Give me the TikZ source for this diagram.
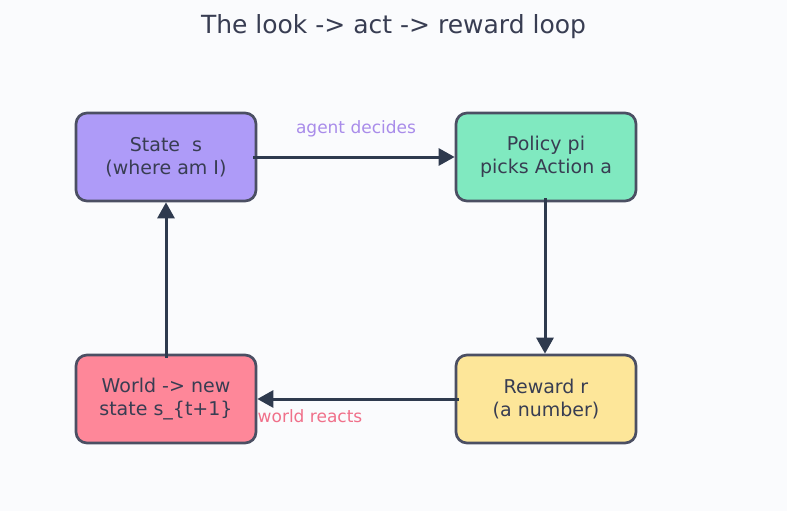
\documentclass[tikz,border=0pt]{standalone}
\usepackage{fontspec}
\setmainfont{DejaVu Sans}
\usetikzlibrary{arrows.meta}
\definecolor{bg}{HTML}{FAFBFD}
\definecolor{edgec}{HTML}{4B4F63}
\definecolor{txt}{HTML}{383D52}
\definecolor{arrowc}{HTML}{2E3A4E}
\definecolor{fpurple}{HTML}{AE9BF8}
\definecolor{fgreen}{HTML}{80E9C0}
\definecolor{fyellow}{HTML}{FDE699}
\definecolor{fpink}{HTML}{FE8799}
\definecolor{lpurple}{HTML}{A98CEA}
\definecolor{lpink}{HTML}{F0708A}
\tikzset{
  box/.style={draw=edgec, line width=2.7pt, rounded corners=11pt, minimum width=180pt, minimum height=88pt, align=center, text=txt, font=\fontsize{19}{22.5}\selectfont, inner sep=0pt},
  conn/.style={draw=arrowc, line width=3pt, -{Triangle[length=16pt,width=17pt]}},
  lab/.style={font=\fontsize{17}{20}\selectfont}
}
\begin{document}
\begin{tikzpicture}[x=1pt,y=-1pt]
\fill[bg] (0,0) rectangle (787,511);
\useasboundingbox (0,0) rectangle (787,511);
\node[text=txt, font=\fontsize{25}{29}\selectfont] (title) at (393.5,27) {The look -> act -> reward loop};
\node[box, fill=fpurple] (S) at (166,157) {State\ \ s\\(where am I)};
\node[box, fill=fgreen] (P) at (546,157) {Policy pi\\picks Action a};
\node[box, fill=fpink] (W) at (166,399) {World -> new\\state s\_\{t+1\}};
\node[box, fill=fyellow] (R) at (546,399) {Reward r\\(a number)};
\draw[conn] ([xshift=-4pt]S.east) -- (P.west);
\draw[conn] ([xshift=-1pt,yshift=4pt]P.south) -- ([xshift=-1pt]R.north);
\draw[conn] ([xshift=4pt]R.west) -- (W.east);
\draw[conn] ([yshift=-4pt]W.north) -- (S.south);
\node[lab, text=lpurple] (l1) at (356,129) {agent decides};
\node[lab, text=lpink] (l2) at (310,416) {world reacts};
\end{tikzpicture}
\end{document}
